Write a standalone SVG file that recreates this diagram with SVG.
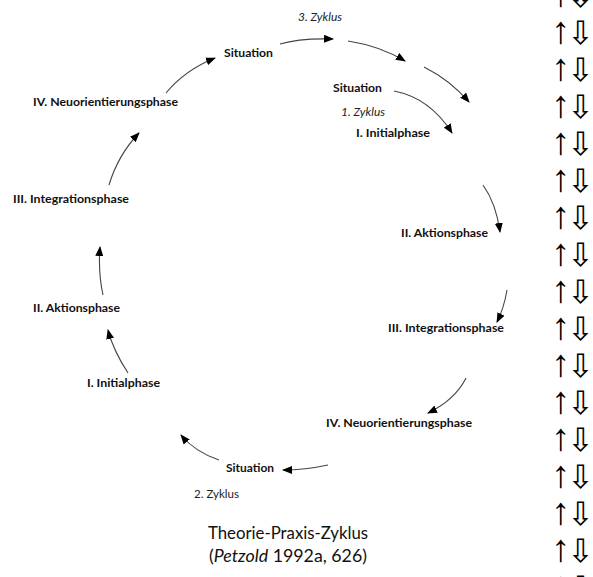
<svg xmlns="http://www.w3.org/2000/svg" width="593" height="577" viewBox="0 0 593 577">
<style>
.lb{font-family:Lato,"Open Sans","Liberation Sans",sans-serif;font-weight:bold;font-size:12px;fill:#111}
.it{font-family:Lato,"Open Sans","Liberation Sans",sans-serif;font-style:italic;font-size:10.5px;fill:#222}
.rg{font-family:Lato,"Open Sans","Liberation Sans",sans-serif;font-size:10.5px;fill:#222}
.ti{font-family:Lato,"Open Sans","Liberation Sans",sans-serif;font-size:16.5px;fill:#111}
.c{fill:none;stroke:#444;stroke-width:1.1;marker-end:url(#ah)}
.row{fill:#000}
.up{font-family:"Liberation Sans",sans-serif;font-weight:bold;font-size:38px}
.dn{font-family:"DejaVu Sans",sans-serif;font-weight:normal;font-size:32px}
</style>
<defs>
<marker id="ah" markerUnits="userSpaceOnUse" markerWidth="10" markerHeight="8" refX="9" refY="4" orient="auto">
<path d="M0,0 L10,4 L0,8 z" fill="#000"/>
</marker>
</defs>
<rect width="593" height="577" fill="#fff"/>
<g id="connectors">
<path class="c" d="M280,44 Q300,38 333,39"/>
<path class="c" d="M348,41 Q380,46 405,61"/>
<path class="c" d="M424,67 Q450,80 469,102"/>
<path class="c" d="M394,91 Q430,98 452,133"/>
<path class="c" d="M483,185 Q496,203 500,232"/>
<path class="c" d="M507,290 Q504,308 497,322"/>
<path class="c" d="M466,378 Q455,400 428,413"/>
<path class="c" d="M328,465 Q305,470 283,470"/>
<path class="c" d="M219,460 Q195,452 181,435"/>
<path class="c" d="M128,373 Q113,350 108,330"/>
<path class="c" d="M103,295 Q98,272 100,247"/>
<path class="c" d="M109,185 Q118,155 139,133"/>
<path class="c" d="M166,93 Q185,70 215,58"/>
</g>
<g id="zyklus3"><text class="it" x="298" y="21" textLength="44" lengthAdjust="spacingAndGlyphs">3. Zyklus</text></g>
<g id="situation-top"><text class="lb" x="224" y="57" textLength="49" lengthAdjust="spacingAndGlyphs">Situation</text></g>
<g id="neu-left"><text class="lb" x="33" y="106" textLength="145" lengthAdjust="spacingAndGlyphs">IV. Neuorientierungsphase</text></g>
<g id="situation-inner"><text class="lb" x="333" y="92" textLength="49" lengthAdjust="spacingAndGlyphs">Situation</text></g>
<g id="zyklus1"><text class="it" x="341" y="116" textLength="44" lengthAdjust="spacingAndGlyphs">1. Zyklus</text></g>
<g id="init-right"><text class="lb" x="356" y="137" textLength="74" lengthAdjust="spacingAndGlyphs">I. Initialphase</text></g>
<g id="integ-left"><text class="lb" x="13" y="203" textLength="116" lengthAdjust="spacingAndGlyphs">III. Integrationsphase</text></g>
<g id="akt-right"><text class="lb" x="401" y="237" textLength="87" lengthAdjust="spacingAndGlyphs">II. Aktionsphase</text></g>
<g id="akt-left"><text class="lb" x="33" y="312" textLength="87" lengthAdjust="spacingAndGlyphs">II. Aktionsphase</text></g>
<g id="integ-right"><text class="lb" x="388" y="332" textLength="116" lengthAdjust="spacingAndGlyphs">III. Integrationsphase</text></g>
<g id="init-left"><text class="lb" x="87" y="387" textLength="73" lengthAdjust="spacingAndGlyphs">I. Initialphase</text></g>
<g id="neu-right"><text class="lb" x="326" y="427" textLength="146" lengthAdjust="spacingAndGlyphs">IV. Neuorientierungsphase</text></g>
<g id="situation-bottom"><text class="lb" x="226" y="472" textLength="48" lengthAdjust="spacingAndGlyphs">Situation</text></g>
<g id="zyklus2"><text class="rg" x="194" y="498" textLength="45" lengthAdjust="spacingAndGlyphs">2. Zyklus</text></g>
<g id="caption">
<text class="ti" x="208" y="539" textLength="160" lengthAdjust="spacingAndGlyphs">Theorie-Praxis-Zyklus</text>
<text class="ti" x="209" y="562" textLength="158" lengthAdjust="spacingAndGlyphs">(<tspan font-style="italic">Petzold</tspan> 1992a, 626)</text>
</g>
<g id="arrows-column">
<text class="row" x="551" y="6"><tspan class="up">↑</tspan><tspan class="dn" x="567" dy="1">⇩</tspan></text>
<text class="row" x="551" y="43"><tspan class="up">↑</tspan><tspan class="dn" x="567" dy="1">⇩</tspan></text>
<text class="row" x="551" y="80"><tspan class="up">↑</tspan><tspan class="dn" x="567" dy="1">⇩</tspan></text>
<text class="row" x="551" y="117"><tspan class="up">↑</tspan><tspan class="dn" x="567" dy="1">⇩</tspan></text>
<text class="row" x="551" y="154"><tspan class="up">↑</tspan><tspan class="dn" x="567" dy="1">⇩</tspan></text>
<text class="row" x="551" y="191"><tspan class="up">↑</tspan><tspan class="dn" x="567" dy="1">⇩</tspan></text>
<text class="row" x="551" y="228"><tspan class="up">↑</tspan><tspan class="dn" x="567" dy="1">⇩</tspan></text>
<text class="row" x="551" y="265"><tspan class="up">↑</tspan><tspan class="dn" x="567" dy="1">⇩</tspan></text>
<text class="row" x="551" y="302"><tspan class="up">↑</tspan><tspan class="dn" x="567" dy="1">⇩</tspan></text>
<text class="row" x="551" y="339"><tspan class="up">↑</tspan><tspan class="dn" x="567" dy="1">⇩</tspan></text>
<text class="row" x="551" y="376"><tspan class="up">↑</tspan><tspan class="dn" x="567" dy="1">⇩</tspan></text>
<text class="row" x="551" y="413"><tspan class="up">↑</tspan><tspan class="dn" x="567" dy="1">⇩</tspan></text>
<text class="row" x="551" y="450"><tspan class="up">↑</tspan><tspan class="dn" x="567" dy="1">⇩</tspan></text>
<text class="row" x="551" y="487"><tspan class="up">↑</tspan><tspan class="dn" x="567" dy="1">⇩</tspan></text>
<text class="row" x="551" y="524"><tspan class="up">↑</tspan><tspan class="dn" x="567" dy="1">⇩</tspan></text>
<text class="row" x="551" y="561"><tspan class="up">↑</tspan><tspan class="dn" x="567" dy="1">⇩</tspan></text>
<text class="row" x="551" y="598"><tspan class="up">↑</tspan><tspan class="dn" x="567" dy="1">⇩</tspan></text>
</g>
</svg>
